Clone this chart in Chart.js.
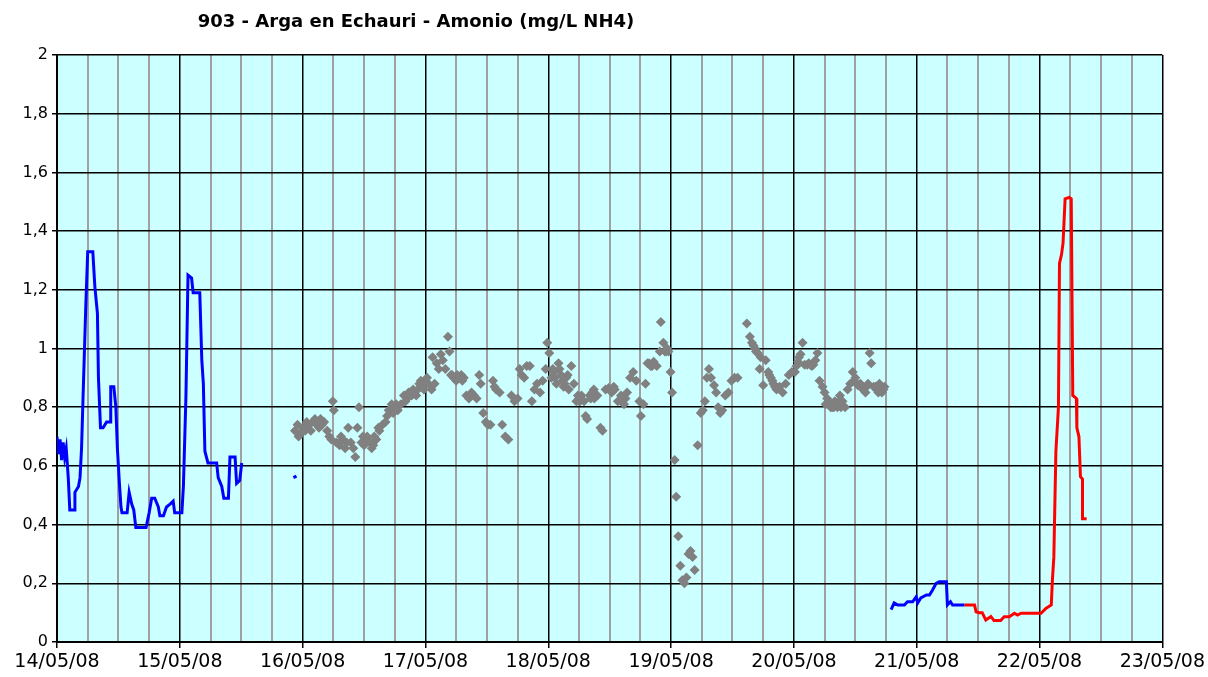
<!DOCTYPE html>
<html>
<head>
<meta charset="utf-8">
<script src="https://cdn.jsdelivr.net/npm/chart.js@4.4.1/dist/chart.umd.min.js"></script>
<style>
html,body{margin:0;padding:0;background:#fff;}
#wrap{width:1208px;height:677px;position:relative;}
</style>
</head>
<body>
<div id="wrap"><canvas id="c" width="1208" height="677"></canvas></div>
<script>
const chartTitle = "903 - Arga en Echauri - Amonio (mg/L NH4)";
const dateLabels = ["14/05/08","15/05/08","16/05/08","17/05/08","18/05/08","19/05/08","20/05/08","21/05/08","22/05/08","23/05/08"];

// hours since 14/05/08 00:00
const blue1Hours = [0.0,0.3,0.6,0.9,1.2,1.5,1.8,2.2,2.5,3.5,3.5,4.2,4.5,4.8,5.1,5.6,6.0,7.0,7.4,7.9,8.1,8.5,9.0,9.7,10.5,10.5,11.1,11.5,11.8,12.2,12.5,12.7,13.7,14.1,14.6,15.0,15.4,17.4,18.0,18.5,19.1,19.8,20.1,20.8,21.4,22.1,22.7,23.0,24.4,24.7,25.2,25.6,26.3,26.6,27.9,28.3,28.6,28.9,29.5,31.2,31.5,32.2,32.6,33.5,33.8,34.8,35.1,35.7,36.1];
const blue1Values = [0.70,0.64,0.69,0.62,0.68,0.63,0.66,0.56,0.45,0.45,0.51,0.53,0.56,0.66,0.84,1.13,1.33,1.33,1.21,1.12,0.90,0.73,0.73,0.75,0.75,0.87,0.87,0.80,0.66,0.54,0.46,0.44,0.44,0.51,0.47,0.45,0.39,0.39,0.44,0.49,0.49,0.46,0.43,0.43,0.46,0.47,0.48,0.44,0.44,0.53,0.84,1.25,1.24,1.19,1.19,0.96,0.88,0.65,0.61,0.61,0.56,0.53,0.49,0.49,0.63,0.63,0.54,0.55,0.61];

const blueDotHours = [46.2,46.8];
const blueDotValues = [0.56,0.565];

const grayHours = [46.5,47.0,47.5,48.0,48.5,49.2,50.0,50.8,51.5,52.2,52.8,53.2,53.6,53.9,54.1,54.6,55.2,55.8,56.3,56.9,57.4,57.9,58.3,58.7,59.0,59.5,60.0,60.6,61.2,61.8,62.4,63.0,63.6,64.2,64.8,65.4,66.0,66.6,67.2,67.8,68.4,69.0,69.6,70.2,70.8,71.4,72.0,72.6,73.2,73.4,73.8,74.2,74.6,75.0,75.4,75.9,76.4,76.7,77.0,77.5,78.0,78.5,79.0,79.5,80.0,80.5,81.0,81.5,82.0,82.5,82.8,83.3,83.8,84.2,84.7,85.2,85.8,86.5,87.0,87.6,88.2,88.8,89.4,90.0,90.4,90.8,91.3,91.8,92.4,92.8,93.3,93.8,94.4,94.9,95.5,95.8,96.2,96.6,97.1,97.6,98.0,98.5,99.0,99.5,100.0,100.5,101.0,101.5,102.0,102.5,103.0,103.3,103.6,104.1,104.6,105.0,105.6,106.2,106.6,107.2,107.8,108.4,109.0,109.6,110.2,110.8,111.4,112.0,112.6,113.2,113.8,114.1,114.6,115.0,115.4,116.0,116.6,117.2,117.8,118.0,118.5,119.0,119.5,119.9,120.2,120.7,121.0,121.4,121.8,122.2,122.6,123.0,123.4,123.8,124.2,124.6,125.2,125.8,126.2,126.6,127.0,127.4,127.8,128.4,128.8,129.2,129.6,130.0,130.6,131.2,131.8,132.4,133.0,134.8,135.4,135.8,136.4,136.9,137.3,137.5,138.0,138.5,139.0,139.5,140.0,140.6,141.2,141.8,142.4,143.0,143.6,144.2,144.8,145.3,145.7,146.1,146.6,147.2,147.8,148.2,148.6,149.0,149.6,150.0,150.5,151.0,151.5,152.0,152.5,153.0,153.5,154.0,154.5,155.0,155.5,156.0,156.5,157.0,157.5,158.0,158.5,158.8,159.1,159.6,160.2,160.7,161.2,161.7,
  47.2,48.8,49.6,50.4,51.2,51.8,55.5,56.6,59.8,60.3,61.5,62.0,62.8,64.5,65.7,66.3,68.1,68.7,69.3,70.5,71.1,71.7,72.3,77.2,77.8,78.2,79.2,85.5,96.9,97.3,98.2,98.8,99.2,99.8,101.8,102.2,104.3,104.9,105.3,108.2,108.8,110.5,111.1,115.7,116.3,118.8,119.2,136.1,136.6,139.2,139.8,140.3,144.5,145.0,146.9,147.5,150.2,150.8,151.2,151.8,152.2,152.8,153.2,155.8,157.2,158.2,160.0,160.5,161.0,161.5];
const grayValues = [0.72,0.74,0.71,0.73,0.72,0.74,0.75,0.74,0.76,0.75,0.72,0.70,0.69,0.82,0.79,0.68,0.67,0.69,0.66,0.73,0.68,0.66,0.63,0.73,0.80,0.68,0.67,0.70,0.68,0.67,0.69,0.72,0.74,0.75,0.79,0.81,0.80,0.79,0.81,0.84,0.83,0.85,0.86,0.84,0.88,0.87,0.89,0.88,0.86,0.97,0.88,0.95,0.93,0.98,0.96,0.93,1.04,0.99,0.91,0.90,0.89,0.90,0.91,0.90,0.84,0.83,0.85,0.84,0.83,0.91,0.88,0.78,0.75,0.74,0.74,0.89,0.86,0.85,0.74,0.70,0.69,0.84,0.82,0.83,0.93,0.91,0.90,0.94,0.94,0.82,0.86,0.88,0.85,0.89,0.93,1.02,0.985,0.90,0.92,0.88,0.95,0.91,0.87,0.90,0.86,0.94,0.88,0.82,0.83,0.84,0.82,0.77,0.76,0.84,0.85,0.83,0.84,0.73,0.72,0.86,0.865,0.85,0.86,0.82,0.84,0.81,0.85,0.90,0.92,0.89,0.82,0.77,0.81,0.88,0.95,0.94,0.955,0.94,0.99,1.09,1.02,0.99,0.99,0.92,0.85,0.62,0.495,0.36,0.26,0.21,0.20,0.22,0.30,0.31,0.29,0.245,0.67,0.78,0.79,0.82,0.90,0.93,0.90,0.875,0.85,0.80,0.78,0.79,0.84,0.85,0.89,0.90,0.90,1.085,1.04,1.02,1.00,0.985,0.93,0.97,0.875,0.96,0.92,0.90,0.88,0.86,0.87,0.85,0.88,0.91,0.92,0.92,0.955,0.98,1.02,0.945,0.945,0.945,0.945,0.96,0.985,0.89,0.87,0.85,0.83,0.81,0.80,0.82,0.80,0.84,0.82,0.80,0.86,0.88,0.92,0.90,0.875,0.88,0.86,0.85,0.88,0.985,0.95,0.87,0.86,0.88,0.85,0.87,
  0.70,0.75,0.72,0.76,0.73,0.74,0.70,0.68,0.70,0.69,0.66,0.70,0.73,0.77,0.78,0.81,0.82,0.85,0.84,0.86,0.89,0.86,0.90,0.91,0.90,0.91,0.89,0.87,0.93,0.90,0.93,0.89,0.88,0.91,0.84,0.82,0.83,0.86,0.84,0.86,0.87,0.83,0.83,0.95,0.94,0.99,1.00,1.01,0.99,0.91,0.89,0.87,0.94,0.97,0.95,0.94,0.81,0.82,0.80,0.80,0.81,0.82,0.80,0.89,0.87,0.87,0.87,0.85,0.87,0.86];

const blue2Hours = [163.0,163.6,164.3,165.6,166.2,167.2,167.9,168.2,168.8,169.9,170.5,171.1,171.8,172.4,173.8,174.0,174.6,175.0,175.7,177.3];
const blue2Values = [0.11,0.133,0.126,0.126,0.137,0.137,0.154,0.133,0.15,0.16,0.16,0.177,0.20,0.205,0.205,0.126,0.137,0.126,0.126,0.126];

const redHours = [177.3,179.3,179.6,180.2,180.8,181.5,182.5,183.1,184.4,185.1,186.1,187.1,187.7,188.4,192.3,193.3,194.3,194.5,194.8,195.2,195.7,195.9,196.3,196.6,197.0,197.8,198.2,198.5,199.2,199.3,199.7,200.0,200.4,200.4,201.2];
const redValues = [0.126,0.126,0.103,0.10,0.10,0.075,0.087,0.073,0.073,0.086,0.086,0.098,0.092,0.098,0.098,0.115,0.126,0.205,0.29,0.65,0.80,1.29,1.32,1.36,1.51,1.515,1.51,0.84,0.83,0.73,0.70,0.563,0.555,0.42,0.42];

const toXY = (xs, ys) => xs.map((x, i) => ({x: x, y: ys[i]}));

const FONT = "'DejaVu Sans', sans-serif";

const bgPlugin = {
  id: 'plotBg',
  beforeDraw(chart) {
    const a = chart.chartArea, ctx = chart.ctx;
    ctx.save();
    ctx.fillStyle = '#CCFFFF';
    ctx.fillRect(a.left, a.top, a.right - a.left, a.bottom - a.top);
    ctx.restore();
  },
  afterDraw(chart) {
    const ctx = chart.ctx;
    ctx.save();
    ctx.fillStyle = '#000';
    ctx.font = "bold 18px 'DejaVu Sans', sans-serif";
    ctx.textAlign = 'center';
    ctx.textBaseline = 'middle';
    ctx.fillText(chartTitle, 416, 22);
    ctx.restore();
  }
};

new Chart(document.getElementById('c'), {
  type: 'line',
  data: {
    datasets: [
      {data: toXY(blue1Hours, blue1Values), borderColor: '#0000FF', borderWidth: 3, pointRadius: 0, tension: 0, fill: false},
      {data: toXY(blueDotHours, blueDotValues), borderColor: '#0000FF', borderWidth: 3, pointRadius: 0, tension: 0, fill: false},
      {data: toXY(grayHours, grayValues), showLine: false, pointStyle: 'rectRot', pointRadius: 5, pointBackgroundColor: '#808080', pointBorderWidth: 0, borderColor: '#808080'},
      {data: toXY(blue2Hours, blue2Values), borderColor: '#0000FF', borderWidth: 3, pointRadius: 0, tension: 0, fill: false},
      {data: toXY(redHours, redValues), borderColor: '#FF0000', borderWidth: 3, pointRadius: 0, tension: 0, fill: false}
    ]
  },
  options: {
    responsive: false,
    animation: false,
    events: [],
    layout: {padding: {top: 55, right: 45, left: 0, bottom: 0}},
    plugins: {legend: {display: false}, title: {display: false}, tooltip: {enabled: false}},
    scales: {
      x: {
        type: 'linear', min: 0, max: 216,
        afterFit: s => { s.height = 35; },
        border: {display: true, color: '#000', width: 2},
        grid: {
          color: c => (c.tick && c.tick.value % 24 === 0) ? '#000000' : '#A0A0A0',
          lineWidth: c => (c.tick && c.tick.value % 24 === 0) ? 1.5 : 2,
          tickColor: c => (c.tick && c.tick.value % 24 === 0) ? '#000000' : 'rgba(0,0,0,0)',
          tickLength: 6, drawTicks: true
        },
        ticks: {
          stepSize: 6, autoSkip: false, maxRotation: 0, padding: 3,
          color: '#000', font: {family: FONT, size: 19},
          callback: v => (v % 24 === 0) ? dateLabels[v / 24] : ''
        }
      },
      y: {
        min: 0, max: 2,
        afterFit: s => { s.width = 57; },
        border: {display: true, color: '#000', width: 2},
        grid: {color: '#000000', lineWidth: 1.5, tickColor: '#000', tickLength: 5},
        ticks: {
          stepSize: 0.2, padding: 4, color: '#000', font: {family: FONT, size: 16},
          callback: v => String(Math.round(v * 10) / 10).replace('.', ',')
        }
      }
    }
  },
  plugins: [bgPlugin]
});
</script>
</body>
</html>
